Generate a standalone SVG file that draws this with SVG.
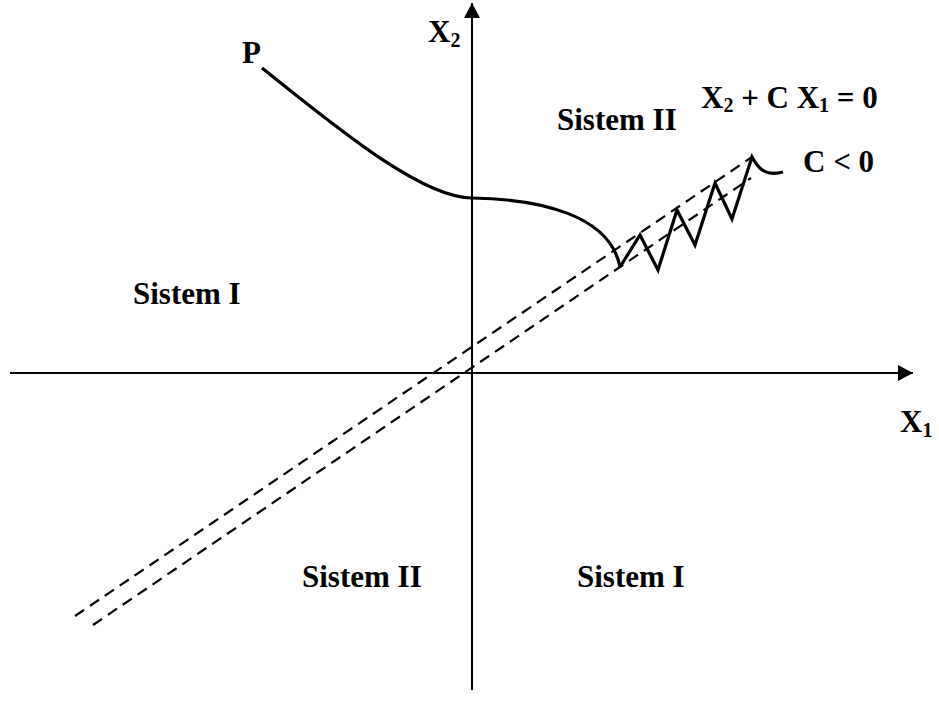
<svg xmlns="http://www.w3.org/2000/svg" width="939" height="724" viewBox="0 0 939 724">
<defs>
<style>
.t{font-family:"Liberation Serif","Times New Roman",serif;font-weight:bold;font-size:31px;fill:#000;white-space:pre}
.sub{font-size:20px}
.ax{stroke:#000;stroke-width:2;fill:none}
.dash{stroke:#000;stroke-width:2.2;fill:none;stroke-dasharray:11 7}
.curve{stroke:#000;stroke-width:3.2;fill:none;stroke-linejoin:miter}
</style>
<marker id="arr" viewBox="0 0 15 16" refX="15" refY="8" markerWidth="15" markerHeight="16" markerUnits="userSpaceOnUse" orient="auto">
<path d="M0,0 L15,8 L0,16 Z" fill="#000"/>
</marker>
</defs>
<rect width="939" height="724" fill="#fff"/>
<g id="connectors">
<line id="x1-axis" class="ax" x1="10" y1="373" x2="913" y2="373" marker-end="url(#arr)"/>
<line id="x2-axis" class="ax" x1="472" y1="690" x2="472" y2="3" marker-end="url(#arr)"/>
<line id="switch-upper" class="dash" x1="75" y1="616" x2="752" y2="157"/>
<line id="switch-lower" class="dash" x1="93" y1="625" x2="751" y2="178"/>
<path id="trajectory" class="curve" d="M262,68 C330,122 420,198 472,198 C540,199 610,215 620,267"/>
<path id="chattering" class="curve" d="M620,267 L640,235 L658,270 L677,210 L695,245 L715,183 L732,219 L752,157 C758,168 765,177 783,172"/>
</g>
<g id="label-P"><text class="t" x="242" y="63">P</text></g>
<g id="label-X2"><text class="t" x="428" y="42">X<tspan class="sub" dy="5">2</tspan></text></g>
<g id="label-X1"><text class="t" x="900" y="432">X<tspan class="sub" dy="5">1</tspan></text></g>
<g id="label-equation"><text class="t" x="701" y="108">X<tspan class="sub" dy="4">2</tspan><tspan dy="-4"> + C X</tspan><tspan class="sub" dy="4">1</tspan><tspan dy="-4"> = 0</tspan></text></g>
<g id="label-C"><text class="t" x="803" y="172">C &lt; 0</text></g>
<g id="region-sistem2-top"><text class="t" x="557" y="130">Sistem II</text></g>
<g id="region-sistem1-left"><text class="t" x="133" y="304">Sistem I</text></g>
<g id="region-sistem2-bottom"><text class="t" x="302" y="587">Sistem II</text></g>
<g id="region-sistem1-bottom"><text class="t" x="577" y="587">Sistem I</text></g>
</svg>
